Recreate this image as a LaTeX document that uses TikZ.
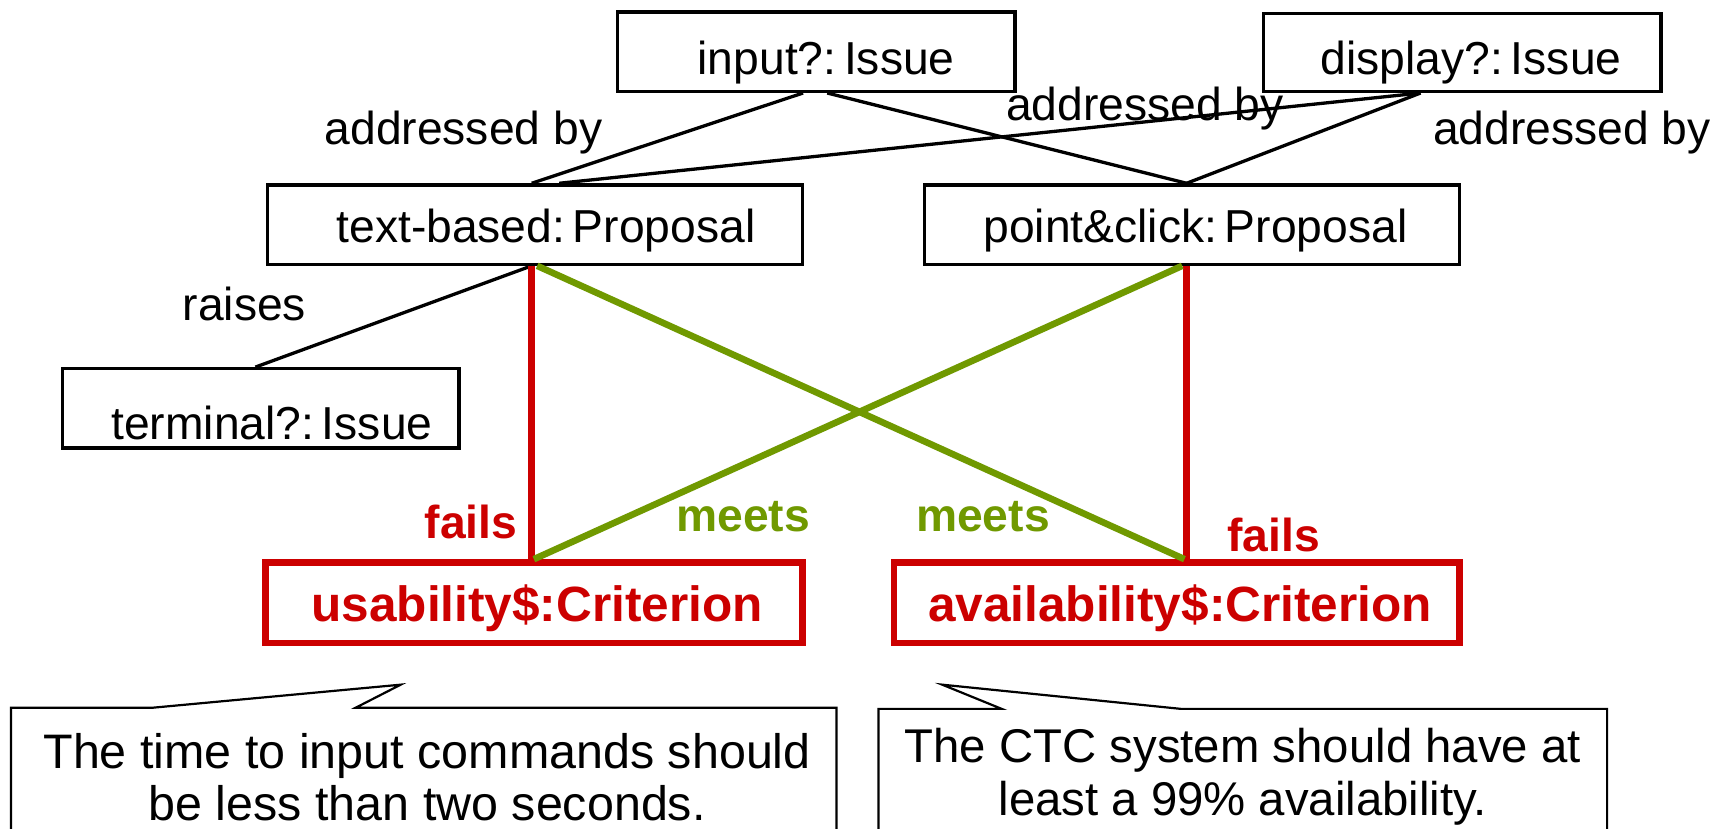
\documentclass[tikz,border=0pt]{standalone}
\usepackage{fontspec}
\setmainfont{Liberation Sans}
\usetikzlibrary{calc}
\definecolor{cred}{RGB}{204,0,0}
\definecolor{cgreen}{RGB}{112,153,0}
\newcommand{\lowtxt}[2]{\raisebox{#1}[0pt][0pt]{#2}}
\tikzset{
  box/.style={draw=black, line width=1.5pt, inner sep=0pt, font=\fontsize{21}{25}\selectfont},
  critbox/.style={draw=cred, line width=3pt, inner sep=0pt, text=cred, font=\bfseries\fontsize{22.5}{26}\selectfont},
  conn/.style={draw=black, line width=1.5pt},
  failline/.style={draw=cred, line width=3pt},
  meetline/.style={draw=cgreen, line width=3pt},
  lbl/.style={inner sep=0pt, font=\fontsize{21}{25}\selectfont},
  failtxt/.style={inner sep=0pt, text=cred, font=\bfseries\fontsize{21}{25}\selectfont},
  meettxt/.style={inner sep=0pt, text=cgreen, font=\bfseries\fontsize{21}{25}\selectfont},
  callout/.style={draw=black, line width=1pt, fill=white},
  callouttxt/.style={inner sep=0pt, align=center, font=\fontsize{22}{24}\selectfont}
}
\begin{document}
\begin{tikzpicture}[x=0.5pt,y=-0.5pt]
\useasboundingbox (0,0) rectangle (1568,753);
\clip (0,0) rectangle (1568,753);
\fill[white] (0,0) rectangle (1568,753);

% boxes
\node[box, minimum width=180.5pt, minimum height=36pt] (input) at (741.5,47) {\lowtxt{-10.3pt}{\hspace{9pt}input?:\,Issue}};
\node[box, minimum width=180.5pt, minimum height=35.5pt] (display) at (1328.5,47.5) {\lowtxt{-10.3pt}{\hspace{8pt}display?:\,Issue}};
\node[box, minimum width=243pt, minimum height=36pt] (tb) at (486,204) {\lowtxt{-8pt}{\hspace{10pt}text-based:\,Proposal}};
\node[box, minimum width=243pt, minimum height=36pt] (pc) at (1083,204) {\lowtxt{-8pt}{\hspace{3pt}point\&click:\,Proposal}};
\node[box, minimum width=180pt, minimum height=36pt] (term) at (237,371) {\lowtxt{-14pt}{\hspace{10pt}terminal?:\,Issue}};
\node[critbox, minimum width=244pt, minimum height=36.5pt] (usa) at (485,547.5) {\lowtxt{-8.6pt}{\hspace{3pt}usability\$:Criterion}};
\node[critbox, minimum width=257pt, minimum height=36.5pt] (ava) at (1069,547.5) {\lowtxt{-8.6pt}{\hspace{3pt}availability\$:Criterion}};

% black connectors
\draw[conn] ($(input.south)+(-12,0)$) -- ($(tb.north)+(-3,0)$);
\draw[conn] ($(input.south)+(10,0)$) -- ($(pc.north)+(-5,0)$);
\draw[conn] ($(display.south)+(-38,0)$) -- ($(tb.north)+(22,0)$);
\draw[conn] ($(display.south)+(-38,0)$) -- ($(pc.north)+(-5,0)$);
\draw[conn] ($(tb.south)+(-3,0)$) -- ($(term.north)+(-5,0)$);

% criteria connectors
\draw[failline] ($(tb.south)+(-3,0)$) -- ($(usa.north)+(-2,0)$);
\draw[failline] ($(pc.south)+(-5,0)$) -- ($(ava.north)+(9,0)$);
\draw[meetline] ($(tb.south)+(2,0)$) -- ($(ava.north)+(7,0)$);
\draw[meetline] ($(pc.south)+(-9,0)$) -- ($(usa.north)+(0,0)$);

% labels
\node[lbl] (l1) at (421,120) {addressed by};
\node[lbl] (l2) at (1040,99) {addressed by};
\node[lbl] (l3) at (1428,120) {addressed by};
\node[lbl] (l4) at (222,276) {raises};
\node[failtxt] (f1) at (428,474) {fails};
\node[meettxt] (m1) at (675,469) {meets};
\node[meettxt] (m2) at (893,469) {meets};
\node[failtxt] (f2) at (1157,486) {fails};

% callouts
\draw[callout] (10,643) -- (138,643) -- (364,622) -- (323,643) -- (760,643) -- (760,800) -- (10,800) -- cycle;
\node[callouttxt] (c1) at (388,706) {The time to input commands should\\be less than two seconds.};
\draw[callout] (798,644) -- (910,644) -- (856,622) -- (1073,644) -- (1460,644) -- (1460,800) -- (798,800) -- cycle;
\node[callouttxt, font=\fontsize{21.5}{24}\selectfont] (c2) at (1129,706) {The CTC system should have at\\least a 99\% availability.};
\end{tikzpicture}
\end{document}
